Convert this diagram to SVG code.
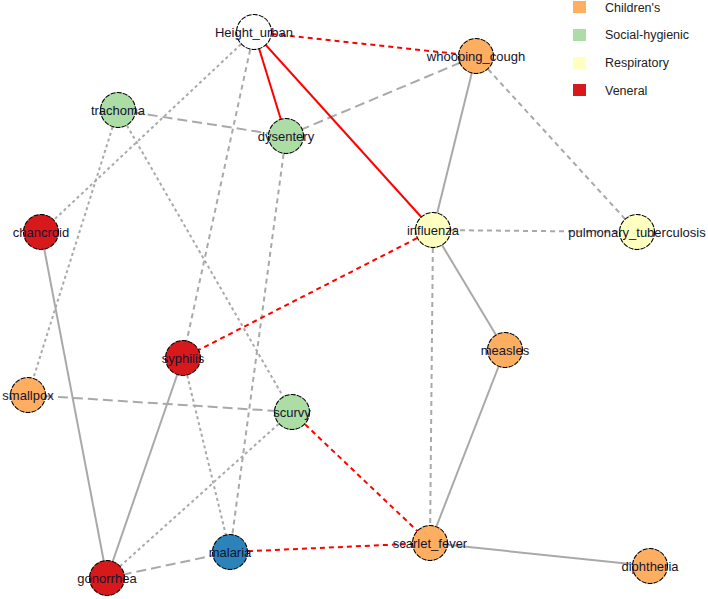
<svg xmlns="http://www.w3.org/2000/svg" width="708" height="599" viewBox="0 0 708 599">
<style>
.e{fill:none;stroke:#a9a9a9;stroke-width:2}
.r{fill:none;stroke:#ff0000;stroke-width:2}
.dot{stroke-dasharray:3,3}
.dsh{stroke-dasharray:5,4}
.ld{stroke-dasharray:10,5}
.n circle{stroke:#000000;stroke-width:1.1;stroke-dasharray:5,1.2}
.n text{font-family:"Liberation Sans",Arial,sans-serif;font-size:13px;fill:#14142e;text-anchor:middle}
.c{fill:#fdae61}.s{fill:#abdda4}.p{fill:#ffffbf}.v{fill:#d7191c}.b{fill:#2b83ba}.w{fill:#ffffff}
.lg text{font-family:"Liberation Sans",Arial,sans-serif;font-size:12.5px;fill:#222}
</style>
<rect width="708" height="599" fill="#ffffff"/>
<g id="connectors">
<line class="e dot" x1="254" y1="32" x2="41" y2="232"/>
<line class="e dsh" x1="254" y1="32" x2="183" y2="358"/>
<line class="e ld" x1="118" y1="110" x2="286" y2="136"/>
<line class="e ld" x1="286" y1="136" x2="476" y2="56"/>
<line class="e dot" x1="118" y1="110" x2="28" y2="395"/>
<line class="e dot" x1="118" y1="110" x2="292" y2="412"/>
<line class="e dsh" x1="286" y1="136" x2="230" y2="552"/>
<line class="e dsh" x1="476" y1="56" x2="637" y2="232"/>
<line class="e dsh" x1="433" y1="230" x2="637" y2="232"/>
<line class="e dsh" x1="433" y1="230" x2="430" y2="543"/>
<line class="e ld" x1="28" y1="395" x2="292" y2="412"/>
<line class="e dot" x1="183" y1="358" x2="230" y2="552"/>
<line class="e dot" x1="292" y1="412" x2="107" y2="578"/>
<line class="e ld" x1="107" y1="578" x2="230" y2="552"/>
<line class="e" x1="41" y1="232" x2="107" y2="578"/>
<line class="e" x1="476" y1="56" x2="433" y2="230"/>
<line class="e" x1="433" y1="230" x2="505" y2="350"/>
<line class="e" x1="505" y1="350" x2="430" y2="543"/>
<line class="e" x1="430" y1="543" x2="650" y2="566"/>
<line class="e" x1="183" y1="358" x2="107" y2="578"/>
<line class="r dsh" x1="254" y1="32" x2="476" y2="56"/>
<line class="r" x1="254" y1="32" x2="286" y2="136"/>
<line class="r" x1="254" y1="32" x2="433" y2="230"/>
<line class="r dsh" x1="433" y1="230" x2="183" y2="358"/>
<line class="r dsh" x1="292" y1="412" x2="430" y2="543"/>
<line class="r dsh" x1="230" y1="552" x2="430" y2="543"/>
</g>
<g id="node-Height_urban" class="n"><circle class="w" cx="254" cy="32" r="17.5"/><text x="254" y="37">Height_urban</text></g>
<g id="node-whooping_cough" class="n"><circle class="c" cx="476" cy="56" r="17.5"/><text x="476" y="61">whooping_cough</text></g>
<g id="node-trachoma" class="n"><circle class="s" cx="118" cy="110" r="17.5"/><text x="118" y="115">trachoma</text></g>
<g id="node-dysentery" class="n"><circle class="s" cx="286" cy="136" r="17.5"/><text x="286" y="141">dysentery</text></g>
<g id="node-chancroid" class="n"><circle class="v" cx="41" cy="232" r="17.5"/><text x="41" y="237">chancroid</text></g>
<g id="node-influenza" class="n"><circle class="p" cx="433" cy="230" r="17.5"/><text x="433" y="235">influenza</text></g>
<g id="node-pulmonary_tuberculosis" class="n"><circle class="p" cx="637" cy="232" r="17.5"/><text x="637" y="237">pulmonary_tuberculosis</text></g>
<g id="node-measles" class="n"><circle class="c" cx="505" cy="350" r="17.5"/><text x="505" y="355">measles</text></g>
<g id="node-smallpox" class="n"><circle class="c" cx="28" cy="395" r="17.5"/><text x="28" y="400">smallpox</text></g>
<g id="node-syphilis" class="n"><circle class="v" cx="183" cy="358" r="17.5"/><text x="183" y="363">syphilis</text></g>
<g id="node-scurvy" class="n"><circle class="s" cx="292" cy="412" r="17.5"/><text x="292" y="417">scurvy</text></g>
<g id="node-malaria" class="n"><circle class="b" cx="230" cy="552" r="17.5"/><text x="230" y="557">malaria</text></g>
<g id="node-gonorrhea" class="n"><circle class="v" cx="107" cy="578" r="17.5"/><text x="107" y="583">gonorrhea</text></g>
<g id="node-scarlet_fever" class="n"><circle class="c" cx="430" cy="543" r="17.5"/><text x="430" y="548">scarlet_fever</text></g>
<g id="node-diphtheria" class="n"><circle class="c" cx="650" cy="566" r="17.5"/><text x="650" y="571">diphtheria</text></g>
<g id="legend" class="lg">
<rect class="c" x="573" y="1" width="13" height="12"/><text x="605" y="12">Children's</text>
<rect class="s" x="573" y="29" width="13" height="12"/><text x="605" y="39">Social-hygienic</text>
<rect class="p" x="573" y="57" width="13" height="12"/><text x="605" y="67">Respiratory</text>
<rect class="v" x="573" y="84" width="13" height="12"/><text x="605" y="95">Veneral</text>
</g>
</svg>
